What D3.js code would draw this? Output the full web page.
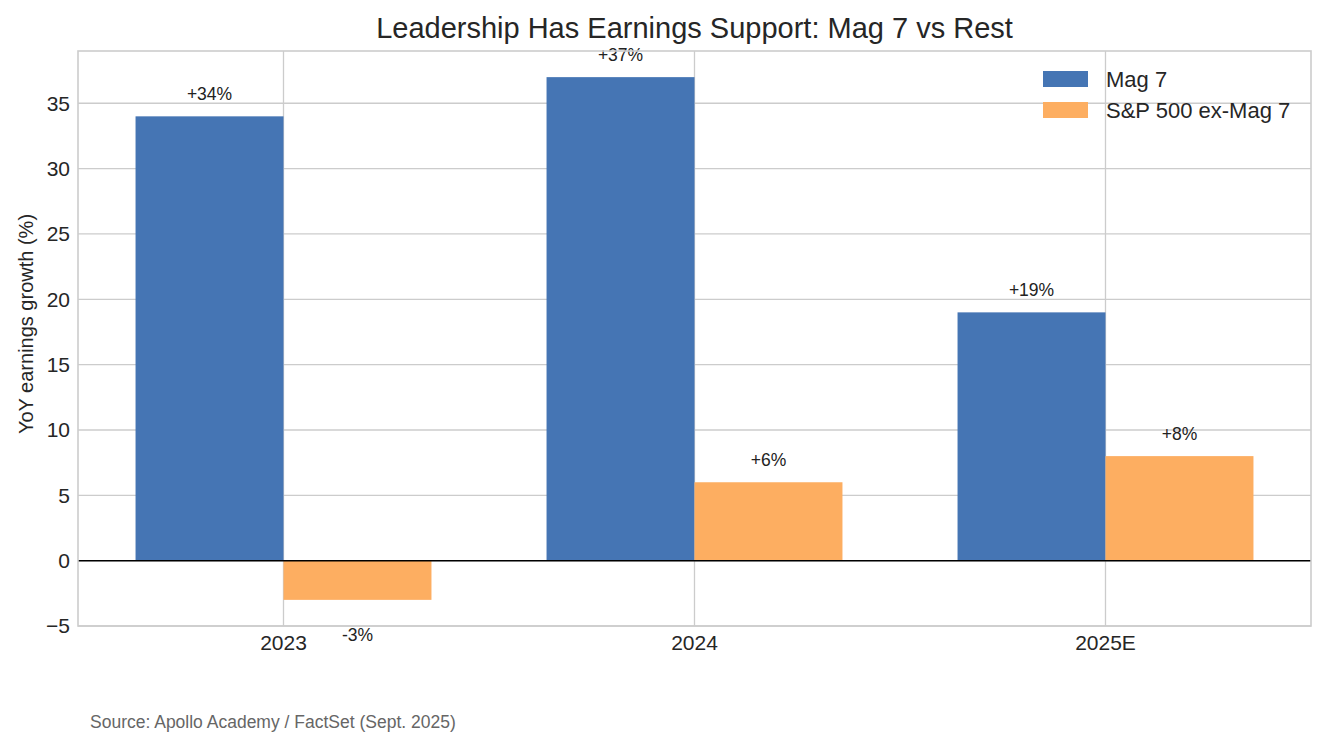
<!DOCTYPE html>
<html>
<head>
<meta charset="utf-8">
<script src="https://cdn.jsdelivr.net/npm/d3@7"></script>
<style>
  body { margin: 0; background: #fff; }
  svg { font-family: "Liberation Sans", Arial, sans-serif; }
</style>
</head>
<body>
<svg id="chart"></svg>
<script>
const categories = ["2023", "2024", "2025E"];
const seriesNames = ["Mag 7", "S&P 500 ex-Mag 7"];
const mag7 = [34, 37, 19];
const restOfIndex = [-3, 6, 8];
const yTicks = [-5, 0, 5, 10, 15, 20, 25, 30, 35];
const colors = ["#4575b4", "#fdae61"];

const W = 1327, H = 750;
const margin = { top: 51, right: 16, bottom: 124, left: 78 };
const width = W - margin.left - margin.right;
const height = H - margin.top - margin.bottom;

const svg = d3.select("#chart").attr("width", W).attr("height", H);

const g = svg.append("g")
  .attr("transform", `translate(${margin.left},${margin.top})`);

const xScale = d3.scaleBand().domain(categories).range([0, width]).padding(0);
const yScale = d3.scaleLinear().domain([-5, 39]).range([height, 0]);
const barW = xScale.bandwidth() * 0.36;
const center = (c) => xScale(c) + xScale.bandwidth() / 2;

// grid
g.append("g")
  .selectAll("line")
  .data(yTicks)
  .enter()
  .append("line")
  .attr("x1", 0).attr("x2", width)
  .attr("y1", (d) => yScale(d)).attr("y2", (d) => yScale(d))
  .attr("stroke", "#cccccc").attr("stroke-width", 1.3);

g.append("g")
  .selectAll("line")
  .data(categories)
  .enter()
  .append("line")
  .attr("x1", (d) => center(d)).attr("x2", (d) => center(d))
  .attr("y1", 0).attr("y2", height)
  .attr("stroke", "#cccccc").attr("stroke-width", 1.3);

// bars + value labels
const series = [mag7, restOfIndex];
series.forEach((vals, si) => {
  const offset = si === 0 ? -barW : 0;
  g.append("g")
    .selectAll("rect")
    .data(vals)
    .enter()
    .append("rect")
    .attr("x", (d, i) => center(categories[i]) + offset)
    .attr("y", (d) => yScale(Math.max(0, d)))
    .attr("width", barW)
    .attr("height", (d) => Math.abs(yScale(d) - yScale(0)))
    .attr("fill", colors[si]);

  g.append("g")
    .selectAll("text")
    .data(vals)
    .enter()
    .append("text")
    .attr("x", (d, i) => center(categories[i]) + offset + barW / 2)
    .attr("y", (d) => (d >= 0 ? yScale(d) - 16.5 : yScale(d) + 41))
    .attr("text-anchor", "middle")
    .attr("font-size", 17.5)
    .attr("fill", "#222")
    .text((d) => (d >= 0 ? `+${d}%` : `${d}%`));
});

// zero line
g.append("line")
  .attr("x1", 0).attr("x2", width)
  .attr("y1", yScale(0)).attr("y2", yScale(0))
  .attr("stroke", "#000").attr("stroke-width", 1.5);

// frame
g.append("rect")
  .attr("width", width).attr("height", height)
  .attr("fill", "none").attr("stroke", "#cccccc").attr("stroke-width", 1.6);

// axes
const xAxis = g.append("g")
  .attr("transform", `translate(0,${height})`)
  .call(d3.axisBottom(xScale).tickSize(0).tickPadding(9));
const yAxis = g.append("g")
  .call(d3.axisLeft(yScale).tickValues(yTicks).tickSize(0).tickPadding(8)
    .tickFormat((d) => (d < 0 ? "\u2212" + Math.abs(d) : d)));
[xAxis, yAxis].forEach((ax) => {
  ax.select(".domain").remove();
  ax.selectAll("text")
    .attr("font-size", 21)
    .attr("fill", "#262626")
    .attr("font-family", "Liberation Sans, Arial, sans-serif");
});

// y label
svg.append("text")
  .attr("transform", "translate(33,324) rotate(-90)")
  .attr("text-anchor", "middle")
  .attr("font-size", 20)
  .attr("fill", "#262626")
  .text("YoY earnings growth (%)");

// title
svg.append("text")
  .attr("x", margin.left + width / 2)
  .attr("y", 38)
  .attr("text-anchor", "middle")
  .attr("font-size", 29)
  .attr("fill", "#262626")
  .text("Leadership Has Earnings Support: Mag 7 vs Rest");

// legend
const legend = svg.append("g").attr("transform", "translate(1043,71)");
seriesNames.forEach((name, i) => {
  legend.append("rect")
    .attr("x", 0).attr("y", i * 31)
    .attr("width", 45).attr("height", 16)
    .attr("fill", colors[i]);
  legend.append("text")
    .attr("x", 63).attr("y", i * 31 + 16)
    .attr("font-size", 22)
    .attr("fill", "#262626")
    .text(name);
});

// source
svg.append("text")
  .attr("x", 90).attr("y", 728)
  .attr("font-size", 17.5)
  .attr("fill", "#666666")
  .text("Source: Apollo Academy / FactSet (Sept. 2025)");
</script>
</body>
</html>
